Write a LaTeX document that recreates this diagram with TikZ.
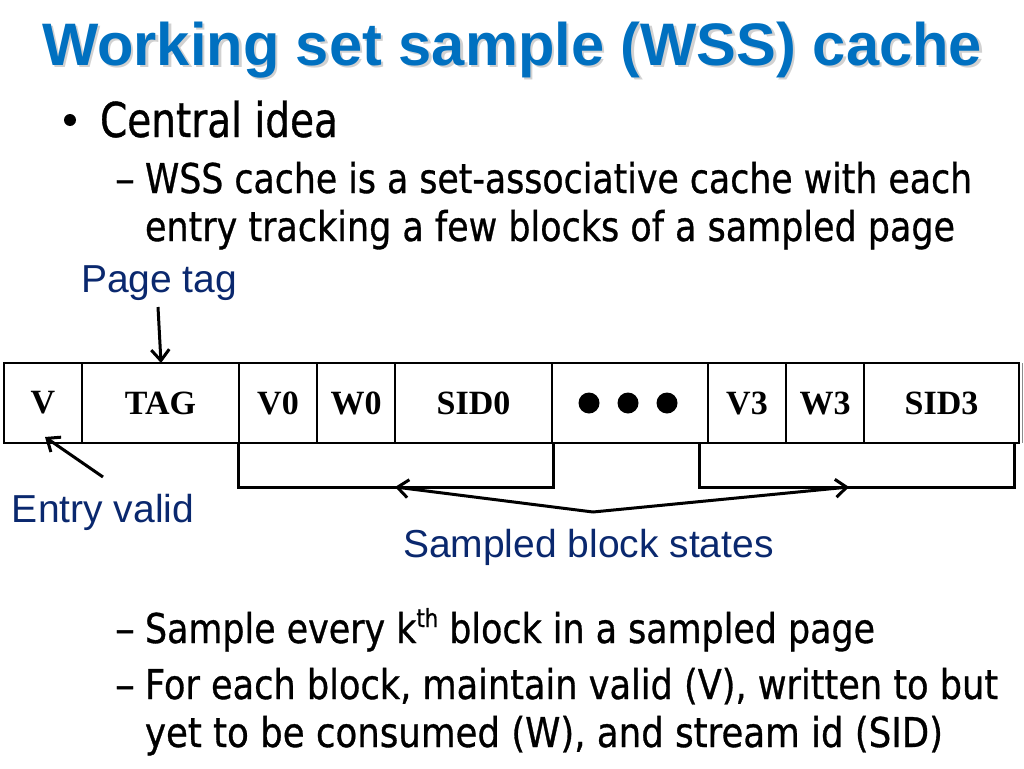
\documentclass[tikz,border=0pt]{standalone}
\usepackage{fontspec}
\usepackage{graphicx}
\setmainfont{DejaVu Sans}[FakeBold=0.8]
\newfontfamily\titlefont{Liberation Sans}
\newfontfamily\labelfont{Liberation Sans}
\newfontfamily\cellfont{Liberation Serif}
\usetikzlibrary{arrows.meta}
\definecolor{titleblue}{RGB}{0,112,192}
\definecolor{navy}{RGB}{10,40,110}
\newcommand{\fitw}[2]{\resizebox{#1}{\height}{#2}}
\tikzset{
  txt/.style={anchor=base west, inner sep=0pt, outer sep=0pt},
  lvltwo/.style={txt, font=\fontsize{41}{41}\selectfont},
  lbl/.style={txt, text=navy, font=\labelfont\fontsize{39}{39}\selectfont},
  cell/.style={draw=black, line width=2pt, minimum height=80pt, inner sep=0pt,
    font=\cellfont\bfseries\fontsize{34}{34}\selectfont, anchor=west},
  brk/.style={line width=3pt, line join=miter},
  arr/.style={line width=3pt, -{Straight Barb[length=11pt,width=18pt,line width=3pt]}},
}
\begin{document}
\begin{tikzpicture}[x=1pt,y=-1pt]
\useasboundingbox (0,0) rectangle (1024,768);
% title
\node[txt, text=black!18] (tshadow) at (44.5,67.5) {\fitw{940pt}{\titlefont\bfseries\fontsize{60}{60}\selectfont Working set sample (WSS) cache}};
\node[txt, text=titleblue] (title) at (42,65) {\fitw{940pt}{\titlefont\bfseries\fontsize{60}{60}\selectfont Working set sample (WSS) cache}};
% bullets
\fill (70,120) circle (6pt);
\node[txt] (l1) at (100,137) {\fitw{238pt}{\fontsize{48}{48}\selectfont Central idea}};
\node[lvltwo] (d1) at (115,193) {\fitw{20pt}{–}};
\node[lvltwo] (l2a) at (145,193) {\fitw{827pt}{WSS cache is a set-associative cache with each}};
\node[lvltwo] (l2b) at (145,241) {\fitw{810pt}{entry tracking a few blocks of a sampled page}};
\node[lvltwo] (d2) at (115,643) {\fitw{20pt}{–}};
\node[lvltwo] (l3) at (145,643) {\fitw{730pt}{Sample every k\raisebox{16pt}{\fontsize{25}{25}\selectfont th} block in a sampled page}};
\node[lvltwo] (d3) at (115,699) {\fitw{20pt}{–}};
\node[lvltwo] (l4a) at (145,699) {\fitw{853pt}{For each block, maintain valid (V), written to but}};
\node[lvltwo] (l4b) at (145,747) {\fitw{798pt}{yet to be consumed (W), and stream id (SID)}};
% labels
\node[lbl] (pagetag) at (81,292) {Page tag};
\node[lbl] (entry) at (12,522) {Entry valid};
\node[lbl] (sampled) at (403,557) {Sampled block states};
% cells
\node[cell, minimum width=78pt]  (cV)    at (3,403)   {V};
\node[cell, minimum width=157pt] (cTAG)  at (81,403)  {TAG};
\node[cell, minimum width=78pt]  (cV0)   at (238,403) {V0};
\node[cell, minimum width=78pt]  (cW0)   at (316,403) {W0};
\node[cell, minimum width=157pt] (cSID0) at (394,403) {SID0};
\node[cell, minimum width=156pt] (cdots) at (551,403) {};
\node[cell, minimum width=78pt]  (cV3)   at (707,403) {V3};
\node[cell, minimum width=78pt]  (cW3)   at (785,403) {W3};
\node[cell, minimum width=155pt] (cSID3) at (863,403) {SID3};
\draw[black!45, line width=1.5pt] (1022.5,363) -- (1022.5,443);
\fill (589,403) circle (10.5pt) (628,403) circle (10.5pt) (667,403) circle (10.5pt);
% brackets
\draw[brk] (cV0.south west) -- (238,487) -- (553,487) -- (553,443);
\draw[brk] (699,443) -- (699,487) -- (1014,487) -- (1014,443);
% arrows
\coordinate (joint) at (593,512);
\coordinate (ltip) at (395,487);
\coordinate (rtip) at (849,487);
\draw[arr] (joint) -- (ltip);
\draw[arr] (joint) -- (rtip);
\coordinate (ptail) at (158,307);
\coordinate (ptip) at (161,363);
\draw[arr] (ptail) -- (ptip);
\coordinate (etail) at (103,477);
\coordinate (etip) at (45,437);
\draw[arr] (etail) -- (etip);
\end{tikzpicture}
\end{document}
